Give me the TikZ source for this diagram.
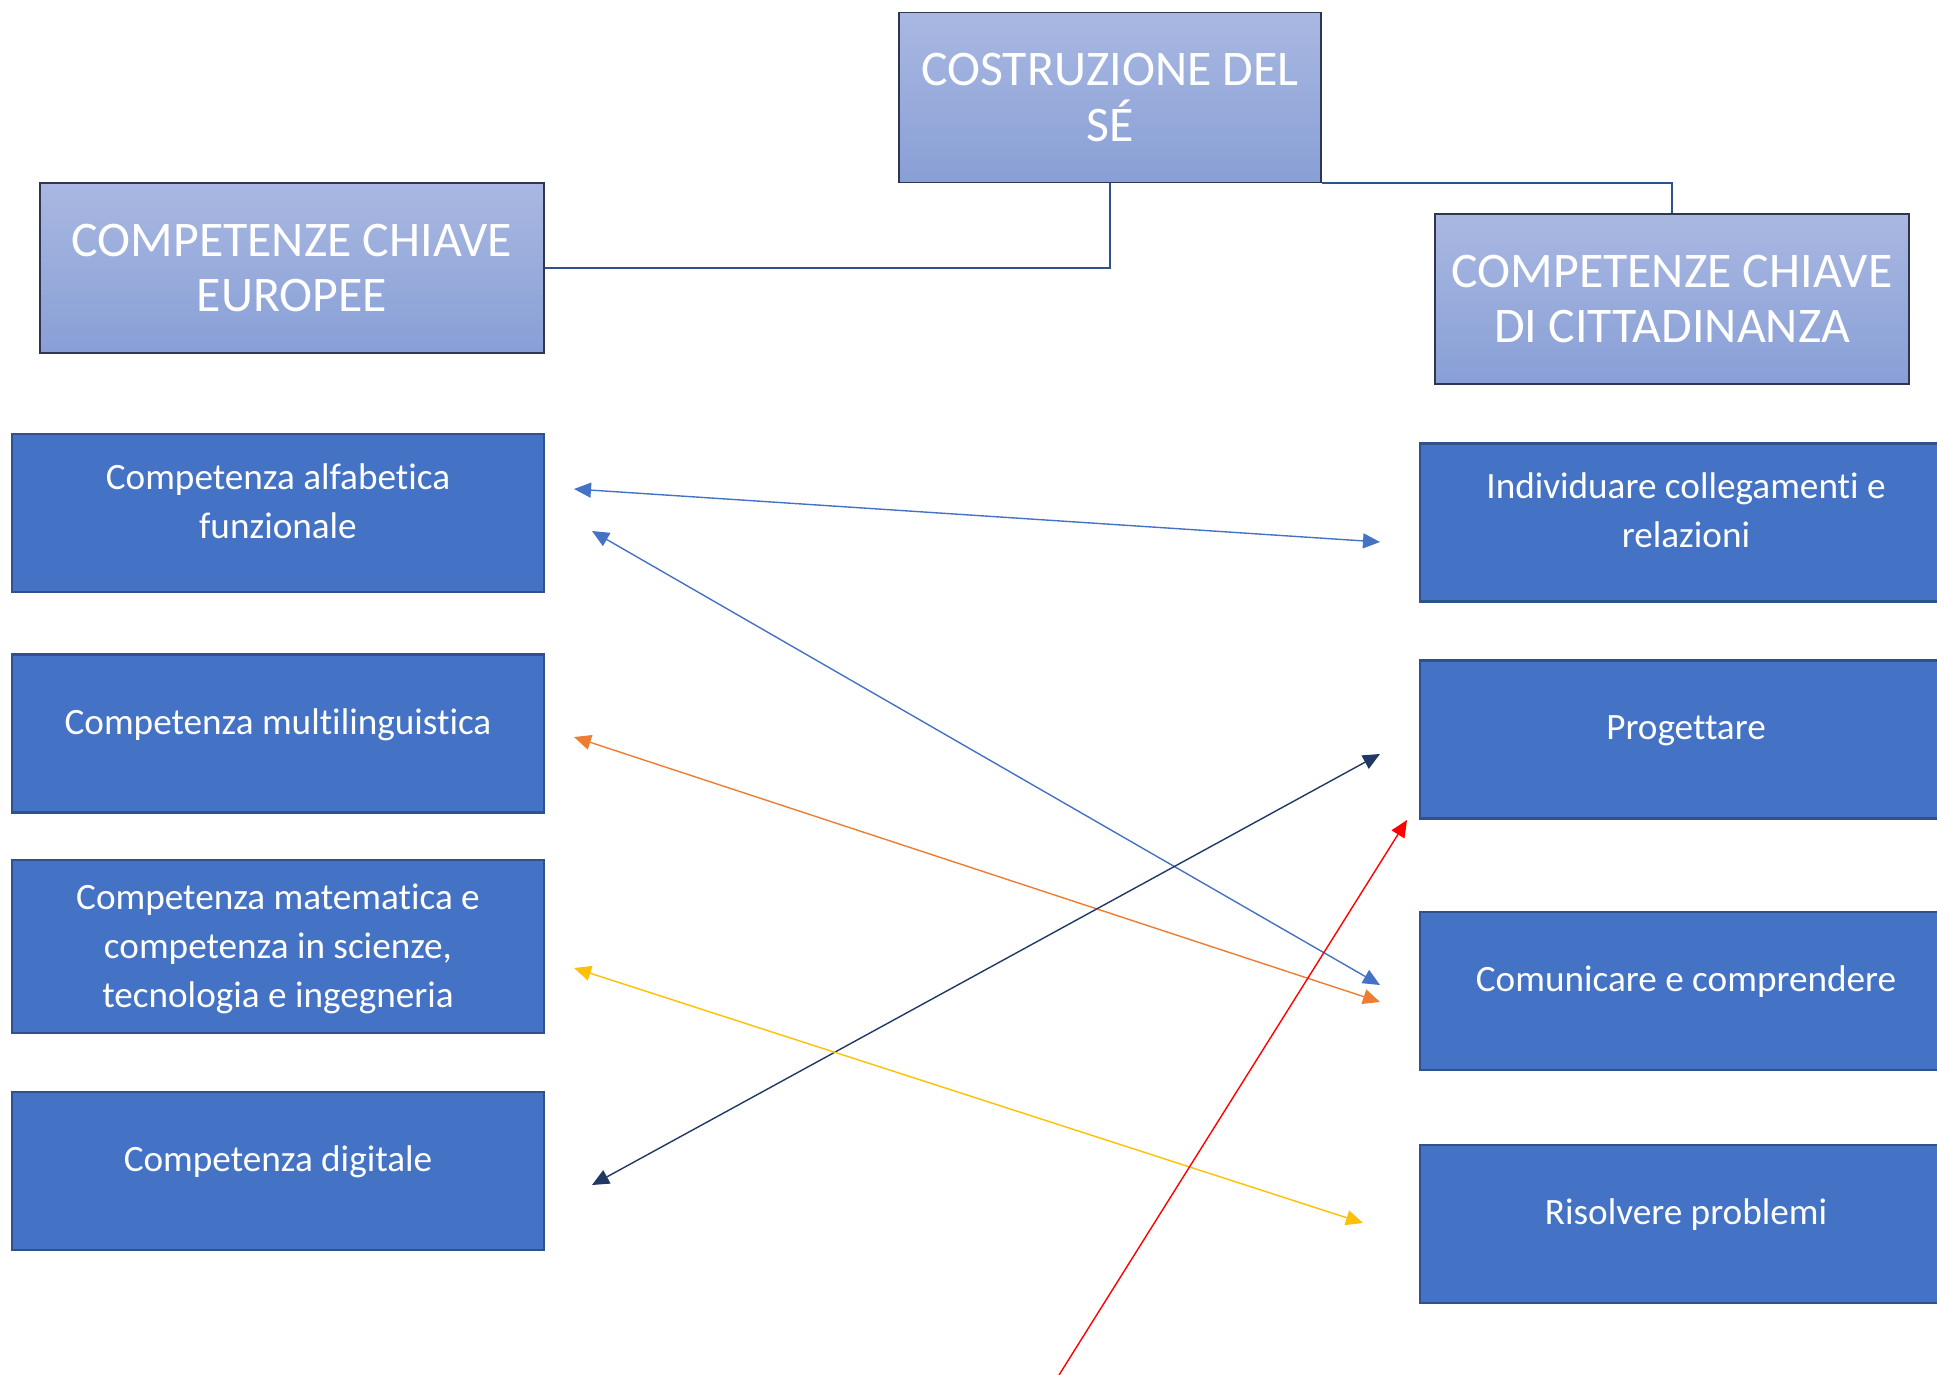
\documentclass[tikz,border=0pt]{standalone}
\usepackage{fontspec}
\setmainfont{Carlito}[Ligatures=NoCommon]
\usepackage{tikz}
\usetikzlibrary{arrows.meta}
\usepackage{xcolor}
\definecolor{boxblue}{HTML}{4472C4}
\definecolor{boxedge}{HTML}{2F528F}
\definecolor{hdrtop}{HTML}{A9B8E1}
\definecolor{hdrbot}{HTML}{889FD6}
\definecolor{hdredge}{HTML}{2E3650}
\definecolor{arrorange}{HTML}{ED7D31}
\definecolor{arrnavy}{HTML}{203864}
\definecolor{arryellow}{HTML}{FFC000}
\definecolor{arrred}{HTML}{FF0000}

\tikzset{
  header/.style={draw=hdredge, line width=0.6pt, top color=hdrtop, bottom color=hdrbot,
    text=white, align=center, inner sep=0pt, minimum height=85pt,
    font=\fontsize{24.9}{27.8}\selectfont},
  compbox/.style={draw=boxedge, line width=1.1pt, fill=boxblue, text=white, align=center,
    inner sep=0pt, minimum width=266pt, minimum height=79pt, text depth=12pt,
    font=\fontsize{18.6}{24.5}\selectfont},
  link/.style={draw=boxedge, line width=1pt},
  twoway/.style={line width=0.7pt, {Triangle[length=8.5pt,width=7.5pt]}-{Triangle[length=8.5pt,width=7.5pt]}},
  oneway/.style={line width=0.7pt, -{Triangle[length=8.5pt,width=7.5pt]}}
}

\begin{document}
\begin{tikzpicture}[x=0.5pt,y=-0.5pt]
            \useasboundingbox (0,0) rectangle (1937,1375);
            % intestazioni
            \node[header, minimum width=211pt] (se) at (1110,97.5) {COSTRUZIONE DEL\\SÉ};
            \node[header, minimum width=252pt] (europa) at (292,268) {COMPETENZE CHIAVE\\EUROPEE};
            \node[header, minimum width=237pt] (citt) at (1672,299) {COMPETENZE CHIAVE\\DI CITTADINANZA};
            \draw[link] (se.south) |- (europa.east);
            \draw[link] (se.south east) -| (citt.north);
            % competenze europee
            \node[compbox] (alfa) at (278,513) {Competenza alfabetica\\funzionale};
            \node[compbox] (multi) at (278,733.5) {Competenza multilinguistica};
            \node[compbox, minimum height=86.5pt, text depth=1pt] (mate) at (278,946.5) {Competenza matematica e\\competenza in scienze,\\tecnologia e ingegneria};
            \node[compbox] (digi) at (278,1171) {Competenza digitale};
            % competenze di cittadinanza
            \node[compbox] (coll) at (1686,522.5) {Individuare collegamenti e\\relazioni};
            \node[compbox] (prog) at (1686,739.5) {Progettare};
            \node[compbox] (comu) at (1686,991) {Comunicare e comprendere};
            \node[compbox] (riso) at (1686,1224) {Risolvere problemi};
            % estremi delle frecce
            \coordinate (alfaA) at (574,489);
            \coordinate (alfaB) at (592,531);
            \coordinate (multiA) at (574,737);
            \coordinate (mateA) at (574,968);
            \coordinate (digiA) at (592,1185);
            \coordinate (collA) at (1380,542);
            \coordinate (progA) at (1380,754);
            \coordinate (progB) at (1407,820);
            \coordinate (comuA) at (1380,985);
            \coordinate (comuB) at (1380,1002);
            \coordinate (risoA) at (1363,1223);
            \coordinate (basso) at (1059,1375);
            % frecce
            \draw[twoway, boxblue] (alfaA) -- (collA);
            \draw[twoway, boxblue] (alfaB) -- (comuA);
            \draw[twoway, arrorange] (multiA) -- (comuB);
            \draw[twoway, arrnavy] (digiA) -- (progA);
            \draw[twoway, arryellow] (mateA) -- (risoA);
            \draw[oneway, arrred] (basso) -- (progB);
            \end{tikzpicture}
\end{document}
